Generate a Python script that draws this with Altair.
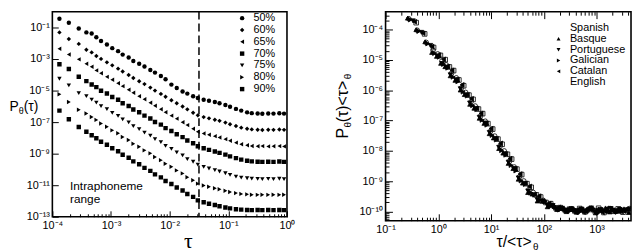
import math
import altair as alt
import pandas as pd

FONT = "Liberation Sans"

# ---------------- left panel data (tau bins and log10 P for each threshold) ----------------
tau = [1.32e-4, 1.91e-4, 2.82e-4, 3.80e-4, 4.68e-4, 5.62e-4, 6.76e-4, 8.51e-4,
       1.05e-3, 1.32e-3, 1.58e-3, 2.00e-3, 2.40e-3, 3.02e-3, 3.72e-3, 4.68e-3,
       5.62e-3, 7.08e-3, 8.51e-3, 1.07e-2, 1.32e-2, 1.66e-2, 2.00e-2, 2.51e-2,
       3.02e-2, 3.80e-2, 4.68e-2, 5.89e-2, 7.08e-2, 8.91e-2, 0.107, 0.135,
       0.166, 0.209, 0.251, 0.316, 0.380, 0.479, 0.589, 0.741, 0.891]

series_names = ["50%", "60%", "65%", "70%", "75%", "80%", "90%"]
series_shapes = ["circle", "diamond", "triangle-left", "square", "triangle-down", "triangle-right", "square"]

logp_50 = [-0.45, -0.70, -1.06, -1.31, -1.38, -1.62, -1.86, -2.08, -2.31, -2.50, -2.72, -2.90, -3.12, -3.30,
           -3.47, -3.70, -3.86, -4.08, -4.28, -4.62, -4.84, -5.06, -5.19, -5.36, -5.47, -5.58, -5.64, -5.72,
           -5.80, -5.91, -6.02, -6.16, -6.27, -6.38, -6.43, -6.45, -6.47, -6.45, -6.46, -6.44, -6.46]
logp_60 = [-1.31, -1.73, -2.04, -2.41, -2.58, -2.81, -2.99, -3.21, -3.40, -3.61, -3.79, -4.01, -4.20, -4.41,
           -4.59, -4.81, -5.00, -5.21, -5.39, -5.61, -5.80, -6.01, -6.19, -6.41, -6.57, -6.68, -6.76, -6.85,
           -6.92, -7.03, -7.13, -7.25, -7.35, -7.42, -7.46, -7.48, -7.50, -7.48, -7.49, -7.47, -7.49]
logp_65 = [-2.35, -2.71, -3.02, -3.30, -3.49, -3.72, -3.90, -4.13, -4.31, -4.54, -4.72, -4.95, -5.14, -5.36,
           -5.55, -5.77, -5.96, -6.18, -6.37, -6.59, -6.78, -7.01, -7.19, -7.42, -7.61, -7.72, -7.80, -7.89,
           -7.97, -8.08, -8.18, -8.30, -8.40, -8.47, -8.51, -8.53, -8.52, -8.54, -8.53, -8.52, -8.54]
logp_70 = [-3.33, -3.63, -4.12, -4.40, -4.61, -4.78, -5.01, -5.18, -5.41, -5.58, -5.80, -5.98, -6.20, -6.37,
           -6.59, -6.77, -6.99, -7.16, -7.38, -7.56, -7.77, -7.95, -8.16, -8.34, -8.53, -8.66, -8.76, -8.86,
           -8.95, -9.06, -9.17, -9.28, -9.38, -9.45, -9.49, -9.51, -9.52, -9.51, -9.52, -9.50, -9.52]
logp_75 = [-4.25, -4.67, -5.16, -5.35, -5.57, -5.76, -5.99, -6.18, -6.41, -6.60, -6.83, -7.02, -7.25, -7.44,
           -7.67, -7.85, -8.08, -8.27, -8.50, -8.69, -8.92, -9.11, -9.34, -9.51, -9.70, -9.84, -9.94, -10.04,
           -10.13, -10.24, -10.35, -10.45, -10.52, -10.56, -10.58, -10.60, -10.61, -10.60, -10.61, -10.59, -10.61]
logp_80 = [-5.23, -5.72, -6.22, -6.45, -6.67, -6.86, -7.09, -7.29, -7.52, -7.71, -7.94, -8.13, -8.37, -8.56,
           -8.79, -8.98, -9.21, -9.41, -9.64, -9.83, -10.06, -10.25, -10.49, -10.68, -10.90, -11.02, -11.10, -11.19,
           -11.26, -11.35, -11.43, -11.50, -11.55, -11.58, -11.60, -11.61, -11.60, -11.61, -11.60, -11.61, -11.60]
logp_90 = [-6.27, -6.82, -7.31, -7.61, -7.83, -8.02, -8.24, -8.43, -8.66, -8.85, -9.07, -9.26, -9.49, -9.67,
           -9.90, -10.09, -10.31, -10.50, -10.73, -10.92, -11.14, -11.33, -11.56, -11.74, -11.96, -12.08, -12.17, -12.25,
           -12.33, -12.41, -12.47, -12.52, -12.55, -12.57, -12.58, -12.57, -12.58, -12.57, -12.58, -12.57, -12.58]

dash_tau = [0.0316]
note_tau = [2.0e-4, 2.0e-4]
note_logp = [-11.05, -11.85]
note_text = ["Intraphoneme", "range"]

# ---------------- right panel data (collapsed curves per language) ----------------
tau_extra = [1.10, 1.35, 1.66, 2.04]
lang_names = ["Spanish", "Basque", "Portuguese", "Galician", "Catalan", "English"]
lang_shapes = ["square", "triangle-up", "triangle-down", "triangle-right", "triangle-left", "circle"]
lang_fills = ["transparent", "black", "black", "black", "black", "transparent"]
log_mean_tau = [-3.46, -3.30, -3.40, -3.35, -3.43, -3.32]

ylog_spanish = [-3.77, -4.14, -4.59, -4.85, -4.99, -5.23, -5.35, -5.66, -5.85, -6.16, -6.30, -6.62, -6.77,
                -7.10, -7.28, -7.61, -7.78, -8.11, -8.27, -8.60, -8.78, -9.08, -9.20, -9.45, -9.52, -9.70,
                -9.74, -9.88, -9.87, -9.96, -9.92, -9.98, -9.90, -10.01, -9.93, -9.97, -9.89, -10.03, -9.94,
                -9.99, -9.91, -10.02, -9.95]
ylog_basque = [-3.62, -4.00, -4.40, -4.75, -4.88, -5.11, -5.22, -5.52, -5.67, -5.99, -6.14, -6.46, -6.59,
               -6.92, -7.09, -7.43, -7.57, -7.92, -8.07, -8.41, -8.58, -8.93, -9.06, -9.37, -9.42, -9.65,
               -9.66, -9.84, -9.78, -9.93, -9.88, -10.00, -9.90, -10.02, -9.93, -9.98, -9.90, -10.04, -9.95,
               -9.88, -10.01, -9.94, -9.99, -9.91, -10.03]
ylog_portuguese = [-3.71, -4.09, -4.52, -4.87, -5.12, -5.24, -5.49, -5.65, -5.95, -6.15, -6.42, -6.60, -6.89,
                   -7.08, -7.39, -7.59, -7.88, -8.09, -8.37, -8.58, -8.89, -9.07, -9.32, -9.45, -9.61, -9.66,
                   -9.78, -9.80, -9.92, -9.89, -9.97, -9.91, -10.00, -9.92, -9.98, -9.88, -10.03, -9.94, -9.99,
                   -9.90, -10.01, -9.93, -9.97, -9.92]
ylog_galician = [-3.67, -4.05, -4.46, -4.78, -4.90, -5.14, -5.26, -5.56, -5.71, -6.05, -6.18, -6.50, -6.63,
                 -6.98, -7.14, -7.48, -7.63, -7.98, -8.13, -8.47, -8.65, -8.98, -9.10, -9.38, -9.45, -9.63,
                 -9.66, -9.83, -9.82, -9.94, -9.89, -9.99, -9.91, -10.02, -9.93, -9.96, -9.89, -10.04, -9.95,
                 -9.98, -9.90, -10.01, -9.94, -9.96]
ylog_catalan = [-3.74, -4.12, -4.56, -4.84, -4.98, -5.22, -5.34, -5.65, -5.82, -6.15, -6.28, -6.60, -6.76,
                -7.09, -7.26, -7.60, -7.75, -8.10, -8.25, -8.59, -8.76, -9.07, -9.17, -9.44, -9.49, -9.70,
                -9.73, -9.89, -9.86, -9.97, -9.91, -9.99, -9.92, -10.02, -9.90, -9.97, -9.93, -10.03, -9.89,
                -9.98, -9.94, -10.00, -9.92]
ylog_english = [-3.64, -4.02, -4.42, -4.68, -4.80, -5.03, -5.16, -5.44, -5.59, -5.92, -6.07, -6.38, -6.52,
                -6.85, -7.02, -7.35, -7.51, -7.85, -8.00, -8.34, -8.53, -8.85, -8.99, -9.27, -9.37, -9.58,
                -9.63, -9.79, -9.81, -9.92, -9.90, -9.97, -9.92, -10.01, -9.93, -9.98, -9.90, -10.03, -9.94,
                -9.97, -9.91, -10.00, -9.93, -9.96, -9.90]

# ---------------- tick values and labels ----------------
left_x_major = [1e-4, 1e-3, 1e-2, 1e-1, 1.0]
left_x_labels = ["10\u207b\u2074", "10\u207b\u00b3", "10\u207b\u00b2", "10\u207b\u00b9", "10\u2070"]
left_y_major = [1e-13, 1e-11, 1e-9, 1e-7, 1e-5, 1e-3, 1e-1]
left_y_labels = ["10\u207b\u00b9\u00b3", "10\u207b\u00b9\u00b9", "10\u207b\u2079", "10\u207b\u2077",
                 "10\u207b\u2075", "10\u207b\u00b3", "10\u207b\u00b9"]
right_x_major = [0.1, 1.0, 10.0, 100.0, 1000.0]
right_x_labels = ["10\u207b\u00b9", "10\u2070", "10\u00b9", "10\u00b2", "10\u00b3"]
right_y_major = [1e-10, 1e-9, 1e-8, 1e-7, 1e-6, 1e-5, 1e-4]
right_y_labels = ["10\u207b\u00b9\u2070", "10\u207b\u2079", "10\u207b\u2078", "10\u207b\u2077",
                  "10\u207b\u2076", "10\u207b\u2075", "10\u207b\u2074"]

left_x_minor = [k * 10.0 ** e for e in range(-4, 0) for k in range(2, 10)]
right_x_minor = [k * 10.0 ** e for e in range(-1, 4) for k in range(2, 10) if k * 10.0 ** e < 4500]
right_y_minor = [k * 10.0 ** e for e in range(-11, -3) for k in range(2, 10)
                 if 5e-11 < k * 10.0 ** e < 3.9e-4]

# ---------------- tables ----------------
left_series = [logp_50, logp_60, logp_65, logp_70, logp_75, logp_80, logp_90]
rows = []
for name, vals in zip(series_names, left_series):
    for t, v in zip(tau, vals):
        rows.append({"tau": t, "p": 10.0 ** v, "series": name})
left_df = pd.DataFrame(rows)

tau_all = tau + tau_extra
lang_series = [ylog_spanish, ylog_basque, ylog_portuguese, ylog_galician, ylog_catalan, ylog_english]
rows = []
for name, m, vals in zip(lang_names, log_mean_tau, lang_series):
    for t, v in zip(tau_all, vals):
        rows.append({"x": t / 10.0 ** m, "y": 10.0 ** v, "lang": name})
right_df = pd.DataFrame(rows)

dash_df = pd.DataFrame({"tau": dash_tau})
note_df = pd.DataFrame({"tau": note_tau, "p": [10.0 ** v for v in note_logp], "text": note_text})

# ---------------- helpers ----------------
def label_expr(values, labels):
    parts = []
    for v, lab in zip(values, labels):
        e = round(math.log10(v))
        parts.append(f"round(log(datum.value)/LN10) == {e} ? '{lab}' : ")
    return "".join(parts) + "''"


def lab_axis(orient, values, labels, pad):
    return alt.Axis(orient=orient, values=values, labelExpr=label_expr(values, labels),
                    ticks=False, domain=False, grid=False, title=None,
                    labelFont=FONT, labelFontSize=11, labelColor="black",
                    labelPadding=pad, labelFlush=False, labelOverlap=False)


def tick_axis(orient, values, size):
    return alt.Axis(orient=orient, values=values, labels=False, ticks=True, tickSize=size,
                    offset=-size, tickColor="black", tickWidth=1, domain=False, grid=False,
                    title=None)


def title_axis(orient, text, size, tx, ty, angle=0, font=FONT):
    return alt.Axis(orient=orient, values=[], labels=False, ticks=False, domain=False, grid=False,
                    title=text, titleX=tx, titleY=ty, titleAngle=angle, titleAlign="left",
                    titleBaseline="alphabetic", titleFont=font, titleFontSize=size,
                    titleFontWeight="normal", titleColor="black", titlePadding=0)


def ghost(df, xf, yf, xs, ys, xaxis, yaxis):
    return alt.Chart(df.head(1)).mark_point(opacity=0).encode(
        x=alt.X(xf, type="quantitative", scale=xs, axis=xaxis),
        y=alt.Y(yf, type="quantitative", scale=ys, axis=yaxis),
    )

# ---------------- left panel ----------------
xs_l = alt.Scale(type="log", domain=[1e-4, 1.0], nice=False)
ys_l = alt.Scale(type="log", domain=[1e-13, 1.0], nice=False)

left_legend = alt.Legend(orient="none", legendX=187, legendY=1, title=None, labelFont=FONT,
                         labelFontSize=11, labelColor="black", symbolSize=20, rowPadding=0,
                         labelOffset=6, padding=0)

l_main = alt.Chart(left_df).mark_point(filled=True, size=20, clip=True, opacity=1).encode(
    x=alt.X("tau:Q", scale=xs_l, axis=lab_axis("bottom", left_x_major, left_x_labels, 3)),
    y=alt.Y("p:Q", scale=ys_l, axis=lab_axis("left", left_y_major, left_y_labels, 3)),
    shape=alt.Shape("series:N", scale=alt.Scale(domain=series_names, range=series_shapes),
                    legend=left_legend),
    color=alt.value("black"),
)
l_tmaj = ghost(left_df, "tau", "p", xs_l, ys_l, tick_axis("bottom", left_x_major, 6),
               tick_axis("left", left_y_major, 6))
l_tmin = ghost(left_df, "tau", "p", xs_l, ys_l, tick_axis("bottom", left_x_minor, 3), None)
l_t1 = ghost(left_df, "tau", "p", xs_l, ys_l,
             title_axis("bottom", "\u03c4", 22, 133, 31, font="Liberation Serif"),
             title_axis("left", "P", 14, -44, 100))
l_t2 = ghost(left_df, "tau", "p", xs_l, ys_l, None, title_axis("left", "\u03b8", 9, -34.5, 103))
l_t3 = ghost(left_df, "tau", "p", xs_l, ys_l, None, title_axis("left", "(\u03c4)", 14, -29.5, 100))
l_rule = alt.Chart(dash_df).mark_rule(strokeDash=[8, 4], strokeWidth=1.5, color="black").encode(
    x=alt.X("tau:Q", scale=xs_l, axis=None))
l_text = alt.Chart(note_df).mark_text(align="left", baseline="middle", font=FONT, fontSize=12,
                                      color="black").encode(
    x=alt.X("tau:Q", scale=xs_l, axis=None),
    y=alt.Y("p:Q", scale=ys_l, axis=None),
    text="text:N")

left = alt.layer(l_rule, l_main, l_tmaj, l_tmin, l_t1, l_t2, l_t3, l_text).resolve_axis(
    x="independent", y="independent").properties(width=238, height=208)

# ---------------- right panel ----------------
xs_r = alt.Scale(type="log", domain=[0.1, 4500], nice=False)
ys_r = alt.Scale(type="log", domain=[5e-11, 3.9e-4], nice=False)

right_legend = alt.Legend(orient="none", legendX=170, legendY=11, title=None, labelFont=FONT,
                          labelFontSize=11, labelColor="black", symbolSize=16,
                          symbolStrokeColor="black", symbolStrokeWidth=0.8, rowPadding=-1.5,
                          labelOffset=6, padding=0)

r_main = alt.Chart(right_df).mark_point(size=22, strokeWidth=0.8, clip=True, opacity=1).encode(
    x=alt.X("x:Q", scale=xs_r, axis=lab_axis("bottom", right_x_major, right_x_labels, 3)),
    y=alt.Y("y:Q", scale=ys_r, axis=lab_axis("left", right_y_major, right_y_labels, 3)),
    shape=alt.Shape("lang:N", scale=alt.Scale(domain=lang_names, range=lang_shapes),
                    legend=right_legend),
    fill=alt.Fill("lang:N", scale=alt.Scale(domain=lang_names, range=lang_fills),
                  legend=right_legend),
    stroke=alt.value("black"),
)
r_tmaj = ghost(right_df, "x", "y", xs_r, ys_r, tick_axis("bottom", right_x_major, 7),
               tick_axis("left", right_y_major, 7))
r_tmin = ghost(right_df, "x", "y", xs_r, ys_r, tick_axis("bottom", right_x_minor, 3.5),
               tick_axis("left", right_y_minor, 3.5))
r_top1 = ghost(right_df, "x", "y", xs_r, ys_r, tick_axis("top", right_x_major, 7), None)
r_top2 = ghost(right_df, "x", "y", xs_r, ys_r, tick_axis("top", right_x_minor, 3.5), None)
r_t1 = ghost(right_df, "x", "y", xs_r, ys_r,
             title_axis("bottom", "\u03c4/<\u03c4>", 16, 112, 26),
             title_axis("left", "P", 16, -39, 128, angle=270))
r_t2 = ghost(right_df, "x", "y", xs_r, ys_r,
             title_axis("bottom", "\u03b8", 10, 149, 29),
             title_axis("left", "\u03b8", 10, -36, 117, angle=270))
r_t3 = ghost(right_df, "x", "y", xs_r, ys_r, None,
             title_axis("left", "(\u03c4)<\u03c4>", 16, -39, 111.5, angle=270))
r_t4 = ghost(right_df, "x", "y", xs_r, ys_r, None,
             title_axis("left", "\u03b8", 10, -36, 68, angle=270))

right = alt.layer(r_main, r_tmaj, r_tmin, r_top1, r_top2, r_t1, r_t2, r_t3, r_t4).resolve_axis(
    x="independent", y="independent").properties(width=249, height=212)

chart = alt.hconcat(left, right, spacing=38).resolve_scale(
    shape="independent", fill="independent").resolve_legend(
    shape="independent", fill="independent").properties(
    padding={"left": 0, "top": 0, "right": 0, "bottom": 0}).configure(
    font=FONT, background="white").configure_view(stroke="black", strokeWidth=1.6)

chart.save("out.html", embed_options={"renderer": "svg", "actions": False})
